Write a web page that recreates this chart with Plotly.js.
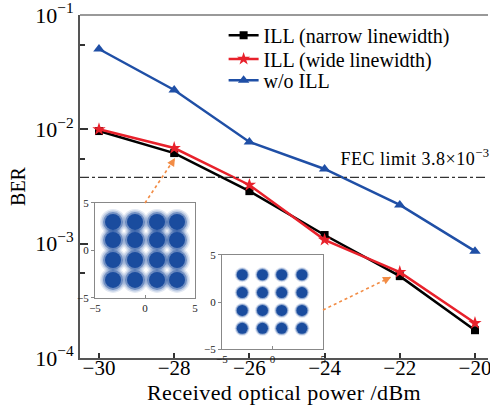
<!DOCTYPE html>
<html>
<head>
<meta charset="utf-8">
<script src="https://cdn.plot.ly/plotly-3.0.1.min.js"></script>
<style>
html,body{margin:0;padding:0;background:#fff}
#chart{width:490px;height:406px}
#chart .xtitle{letter-spacing:0.45px}
#chart .annotation-text{letter-spacing:0.5px}
</style>
</head>
<body>
<div id="chart"></div>
<script>
// ---- data ----
var power = [-30, -28, -26, -24, -22, -20];
var berNarrow = [0.00966, 0.0062, 0.00288, 0.00119, 0.00052, 0.000175];
var berWide = [0.0100, 0.00686, 0.00326, 0.00108, 0.000564, 0.000202];
var berNoILL = [0.0504, 0.0221, 0.00775, 0.0045, 0.00218, 0.00086];
var fecLimit = 3.8e-3;
var xTicks = [-30, -28, -26, -24, -22, -20];
var xTickText = ['\u221230', '\u221228', '\u221226', '\u221224', '\u221222', '\u221220'];
var yTicks = [1e-4, 1e-3, 1e-2, 1e-1];
var yTickText = ['10<sup>\u22124</sup>', '10<sup>\u22123</sup>', '10<sup>\u22122</sup>', '10<sup>\u22121</sup>'];
// constellation cluster centre levels (I and Q)
var inset1I = [-3.2, -1.0, 1.2, 3.2];
var inset1Q = [3.0, 1.1, -1.0, -3.1];
var inset2I = [-3.0, -1.0, 0.9, 2.9];
var inset2Q = [2.9, 1.0, -0.9, -2.8];
var insetTicks = [-5, 0, 5];
var insetTickText = ['\u22125', '0', '5'];

function grid(I, Q) {
  var xs = [], ys = [];
  for (var a = 0; a < Q.length; a++) for (var b = 0; b < I.length; b++) { xs.push(I[b]); ys.push(Q[a]); }
  return {x: xs, y: ys};
}
var g1 = grid(inset1I, inset1Q);
var g2 = grid(inset2I, inset2Q);

var serif = 'Liberation Serif, DejaVu Serif, serif';
var cBlue = '#1f4fa6';
var cRed = '#e8212b';
var cConst = '#1a4c9e';
var cArrow = '#f28c45';

function blob(g, ax, ay, size, op) {
  return {x: g.x, y: g.y, xaxis: ax, yaxis: ay, mode: 'markers', showlegend: false, hoverinfo: 'skip',
    marker: {size: size, color: cConst, opacity: op, line: {width: 0}}};
}

var traces = [
  {x: power, y: berNarrow, name: 'ILL (narrow linewidth)', mode: 'lines+markers', legend: 'legend',
   line: {color: '#000', width: 2.5}, marker: {symbol: 'square', size: 8, color: '#000'}},
  {x: power, y: berWide, name: 'ILL (wide linewidth)', mode: 'lines+markers', legend: 'legend2',
   line: {color: cRed, width: 2.5}, marker: {symbol: 'star', size: 10, color: cRed}},
  {x: power, y: berNoILL, name: 'w/o ILL', mode: 'lines+markers', legend: 'legend3',
   line: {color: cBlue, width: 2.5}, marker: {symbol: 'triangle-up', size: 10, color: cBlue}},
  // inset 1 (noisy constellation)
  blob(g1, 'x2', 'y2', 26, 0.12),
  blob(g1, 'x2', 'y2', 23, 0.2),
  blob(g1, 'x2', 'y2', 20, 0.45),
  blob(g1, 'x2', 'y2', 16, 1),
  // inset 2 (clean constellation)
  blob(g2, 'x3', 'y3', 15, 0.15),
  blob(g2, 'x3', 'y3', 13, 0.4),
  blob(g2, 'x3', 'y3', 11, 1)
];

function insetX(domain, anchor) {
  return {domain: domain, anchor: anchor, range: [-5, 5], showgrid: false, zeroline: false,
    showline: true, mirror: true, linecolor: '#888', linewidth: 1,
    tickvals: insetTicks, ticktext: insetTickText, ticks: 'inside', ticklen: 3, tickcolor: '#888',
    tickfont: {family: serif, size: 11, color: '#222'}, fixedrange: true};
}
function insetY(domain, anchor) {
  return {domain: domain, anchor: anchor, range: [-5, 5], showgrid: false, zeroline: false,
    showline: true, mirror: true, linecolor: '#888', linewidth: 1,
    tickvals: insetTicks, ticktext: insetTickText, ticks: 'outside', ticklen: 3, tickcolor: '#888',
    tickfont: {family: serif, size: 11, color: '#222'}, fixedrange: true};
}
function leg(y) {
  return {x: 0.352, y: y, xanchor: 'left', yanchor: 'middle', bgcolor: 'rgba(0,0,0,0)',
    font: {family: serif, size: 20, color: '#000'}};
}

var layout = {
  width: 490, height: 406,
  margin: {l: 80, r: 2, t: 15, b: 48},
  paper_bgcolor: '#fff', plot_bgcolor: '#fff',
  font: {family: serif, color: '#000'},
  showlegend: true,
  legend: leg(0.941),
  legend2: leg(0.872),
  legend3: leg(0.81),
  xaxis: {range: [-30.505, -19.654], tickvals: xTicks, ticktext: xTickText,
    showgrid: false, zeroline: false, showline: true, linecolor: '#555', linewidth: 2,
    ticks: 'inside', ticklen: 5, tickwidth: 2, tickcolor: '#333', ticklabeloverflow: 'allow',
    ticklabelstandoff: -10,
    tickfont: {family: serif, size: 21, color: '#000'},
    title: {text: 'Received optical power /dBm', font: {family: serif, size: 22, color: '#000'}, standoff: 2}},
  yaxis: {type: 'log', range: [-4, -1], tickvals: yTicks, ticktext: yTickText,
    showgrid: false, zeroline: false, showline: true, linecolor: '#555', linewidth: 2,
    ticks: 'inside', ticklen: 8, tickwidth: 2, tickcolor: '#333', ticklabeloverflow: 'allow',
    tickfont: {family: serif, size: 22, color: '#000'},
    minor: {tickvals: [5.5e-4, 5.5e-3, 5.5e-2], ticks: 'inside', ticklen: 5, tickwidth: 2, tickcolor: '#333'},
    title: {text: 'BER', font: {family: serif, size: 20, color: '#000'}, standoff: 4}},
  xaxis2: insetX([0.0368, 0.2819], 'y2'),
  yaxis2: insetY([0.175, 0.452], 'x2'),
  xaxis3: insetX([0.348, 0.596], 'y3'),
  yaxis3: insetY([0.0262, 0.3003], 'x3'),
  shapes: [
    {type: 'line', xref: 'paper', yref: 'paper', x0: 0, x1: 1, y0: 1, y1: 1, line: {color: '#777', width: 1.5}},
    {type: 'line', xref: 'paper', yref: 'y', x0: 0, x1: 1, y0: fecLimit, y1: fecLimit,
     line: {color: '#333', width: 1.3, dash: 'dashdot'}},
    {type: 'line', xref: 'paper', yref: 'paper', x0: 0.1593, y0: 0.4519, x1: 0.2328, y1: 0.5831,
     line: {color: cArrow, width: 1.6, dash: 'dot'}},
    {type: 'line', xref: 'paper', yref: 'paper', x0: 0.5956, y0: 0.1399, x1: 0.7623, y1: 0.2362,
     line: {color: cArrow, width: 1.6, dash: 'dot'}}
  ],
  annotations: [
    {xref: 'paper', yref: 'y', x: 0.998, y: Math.log10(fecLimit), xanchor: 'right', yanchor: 'bottom',
     text: 'FEC limit 3.8\u00d710<sup>\u22123</sup>', showarrow: false, yshift: 6,
     font: {family: serif, size: 18, color: '#000'}},
    {xref: 'paper', yref: 'paper', x: 0.2328, y: 0.5831, ax: -5, ay: 8, text: '', showarrow: true,
     arrowhead: 2, arrowsize: 1, arrowwidth: 1.6, arrowcolor: cArrow, standoff: 0},
    {xref: 'paper', yref: 'paper', x: 0.7623, y: 0.2362, ax: -8, ay: 4, text: '', showarrow: true,
     arrowhead: 2, arrowsize: 1, arrowwidth: 1.6, arrowcolor: cArrow, standoff: 0}
  ]
};

Plotly.newPlot('chart', traces, layout, {displayModeBar: false, staticPlot: true});
</script>
</body>
</html>
